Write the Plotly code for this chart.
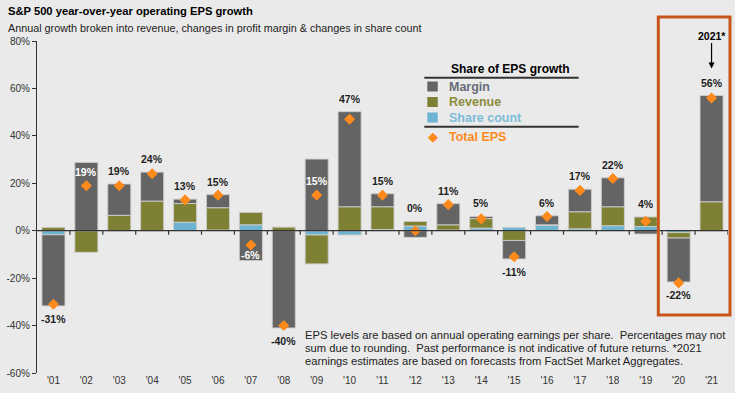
import plotly.graph_objects as go

years = ["'01", "'02", "'03", "'04", "'05", "'06", "'07", "'08", "'09", "'10", "'11",
         "'12", "'13", "'14", "'15", "'16", "'17", "'18", "'19", "'20", "'21"]
margin = [-30.0, 28.8, 13.2, 12.2, 1.8, 5.5, -12.6, -41.0, 30.2, 40.1, 5.5,
          -2.8, 8.9, 0.9, -7.8, 3.8, 9.5, 12.2, -1.4, -18.5, 44.8]
revenue = [1.4, -9.1, 6.5, 12.5, 7.9, 9.4, 5.2, 1.5, -12.2, 10.1, 9.6,
           1.9, 2.2, 4.0, -4.1, 0.3, 7.2, 8.0, 4.0, -2.3, 12.2]
share_count = [-1.7, 0.0, 0.0, 0.0, 3.6, 0.3, 2.5, 0.0, -1.8, -1.8, 0.5,
               2.0, 0.3, 1.1, 1.4, 2.2, 0.8, 2.1, 1.8, -0.8, 0.0]
total_eps = [-31, 19, 19, 24, 13, 15, -6, -40, 15, 47, 15,
             0, 11, 5, -11, 6, 17, 22, 4, -22, 56]
label_pos = ["below", "in_up", "above", "above", "above", "above", "in_down", "below",
             "in_up", "above", "above", "above", "above", "above", "below", "above",
             "above", "above", "above", "below", "above"]
y_ticks = [80, 60, 40, 20, 0, -20, -40, -60]
footnote_lines = [
    "EPS levels are based on annual operating earnings per share.  Percentages may not",
    "sum due to rounding.  Past performance is not indicative of future returns. *2021",
    "earnings estimates are based on forecasts from FactSet Market Aggregates.",
]

C_MARGIN = "#646464"
C_REV = "#7E8033"
C_SHARE = "#6DB3D2"
C_TOTAL = "#FF8A1C"
C_BOX = "#C8561A"
BG = "#EAEAEA"
SANS = "Liberation Sans, Arial, sans-serif"

x = list(range(len(years)))

# plot area in pixels
L, R, T, B = 34, 728, 41, 373
W, H = 735, 393


def px(v):
    return (v - L) / (R - L)


def py(v):
    return (B - v) / (B - T)


fig = go.Figure()
outline = dict(color="rgba(205,205,205,0.9)", width=1)
fig.add_trace(go.Bar(x=x, y=share_count, marker=dict(color=C_SHARE, line=outline), name="Share count"))
fig.add_trace(go.Bar(x=x, y=revenue, marker=dict(color=C_REV, line=outline), name="Revenue"))
fig.add_trace(go.Bar(x=x, y=margin, marker=dict(color=C_MARGIN, line=outline), name="Margin"))
fig.add_trace(go.Scatter(x=x, y=total_eps, mode="markers", name="Total EPS",
                         marker=dict(symbol="diamond", size=8.5, color=C_TOTAL)))

annotations = []
shapes = []

# value labels
for i in x:
    comps = [margin[i], revenue[i], share_count[i]]
    top = sum(c for c in comps if c > 0)
    bot = sum(c for c in comps if c < 0)
    txt = f"<b>{total_eps[i]}%</b>"
    mode = label_pos[i]
    if mode == "above":
        yv, ys, col = top, 13, "#1E1E1E"
    elif mode == "below":
        yv, ys, col = bot, -13, "#1E1E1E"
    elif mode == "in_up":
        yv, ys, col = total_eps[i], 14, "white"
    else:
        yv, ys, col = total_eps[i], -10, "white"
    annotations.append(dict(x=i, y=yv, xref="x", yref="y", text=txt, showarrow=False,
                            yshift=ys, font=dict(family=SANS, size=10.5, color=col)))

# zero line with category boundary ticks
shapes.append(dict(type="line", xref="paper", yref="y", x0=0, x1=1, y0=0, y1=0,
                   line=dict(color="#333333", width=1.2), layer="above"))
for i in x:
    shapes.append(dict(type="line", xref="x", yref="y", ysizemode="pixel", yanchor=0,
                       x0=i + 0.5, x1=i + 0.5, y0=0, y1=-4,
                       line=dict(color="#333333", width=1.2), layer="above"))

# highlight box around 2020-2021
shapes.append(dict(type="rect", xref="paper", yref="paper", x0=px(658), x1=px(730),
                   y0=py(315), y1=py(17), line=dict(color=C_BOX, width=3), layer="above"))

# 2021* arrow
top21 = sum(c for c in [margin[-1], revenue[-1], share_count[-1]] if c > 0)
annotations.append(dict(x=x[-1], y=top21, xref="x", yref="y", yshift=27, text="<b>2021*</b>",
                        showarrow=True, ax=0, ay=-33, arrowhead=2, arrowsize=1, arrowwidth=1.2,
                        arrowcolor="black", standoff=0, font=dict(family=SANS, size=10.5, color="black")))

# custom legend
annotations.append(dict(xref="paper", yref="paper", x=px(448), y=py(69), xanchor="left", yanchor="middle",
                        text="<b>Share of EPS growth</b>", showarrow=False,
                        font=dict(family=SANS, size=12, color="black")))
for yy in (77.7, 126.7):
    shapes.append(dict(type="line", xref="paper", yref="paper", x0=px(423), x1=px(578),
                       y0=py(yy), y1=py(yy), line=dict(color="#333333", width=2)))
legend_items = [("Margin", C_MARGIN, "#686C78", 86.5),
                ("Revenue", C_REV, "#8C8C3C", 102.0),
                ("Share count", C_SHARE, "#7CBCD8", 117.5)]
for name, fill, tcol, yy in legend_items:
    shapes.append(dict(type="rect", xref="paper", yref="paper", x0=px(426), x1=px(436.5),
                       y0=py(yy + 5), y1=py(yy - 5), fillcolor=fill, line=dict(width=0)))
    annotations.append(dict(xref="paper", yref="paper", x=px(446), y=py(yy), xanchor="left",
                            yanchor="middle", text=f"<b>{name}</b>", showarrow=False,
                            font=dict(family=SANS, size=12.5, color=tcol)))
annotations.append(dict(xref="paper", yref="paper", x=px(431.5), y=py(136.5), xanchor="center",
                        yanchor="middle", text="◆", showarrow=False,
                        font=dict(family="DejaVu Sans", size=13, color=C_TOTAL)))
annotations.append(dict(xref="paper", yref="paper", x=px(446), y=py(136.5), xanchor="left",
                        yanchor="middle", text="<b>Total EPS</b>", showarrow=False,
                        font=dict(family=SANS, size=12.5, color=C_TOTAL)))

# footnote
for k, line in enumerate(footnote_lines):
    annotations.append(dict(xref="paper", yref="paper", x=px(301), y=py(335 + 13 * k), xanchor="left",
                            yanchor="middle", align="left", showarrow=False, text=line,
                            font=dict(family=SANS, size=11.2, color="#222222")))

# title and subtitle
annotations.append(dict(xref="paper", yref="paper", x=px(3), y=py(11), xanchor="left", yanchor="middle",
                        text="<b>S&P 500 year-over-year operating EPS growth</b>", showarrow=False,
                        font=dict(family=SANS, size=11.2, color="black")))
annotations.append(dict(xref="paper", yref="paper", x=px(3), y=py(28), xanchor="left", yanchor="middle",
                        text="Annual growth broken into revenue, changes in profit margin & changes in share count",
                        showarrow=False, font=dict(family=SANS, size=10.8, color="#222222")))

fig.update_layout(
    width=W, height=H,
    margin=dict(l=L, r=W - R, t=T, b=H - B, pad=0),
    paper_bgcolor=BG, plot_bgcolor=BG,
    barmode="relative", bargap=0.3,
    showlegend=False,
    annotations=annotations, shapes=shapes,
    xaxis=dict(range=[-0.5, len(years) - 0.5], tickvals=x, ticktext=years, showgrid=False,
               zeroline=False, showline=False, ticks="",
               tickfont=dict(family=SANS, size=10, color="#333333"), fixedrange=True),
    yaxis=dict(range=[-60, 80], tickvals=y_ticks, ticktext=[f"{v}%" for v in y_ticks],
               showgrid=False, zeroline=False, showline=True, linecolor="#333333", linewidth=1.2,
               ticks="outside", ticklen=4, tickcolor="#333333",
               tickfont=dict(family=SANS, size=10, color="#333333"), fixedrange=True),
)

fig.write_html("out.html", config={"displayModeBar": False},
               post_script="document.body.style.margin='0px';")
